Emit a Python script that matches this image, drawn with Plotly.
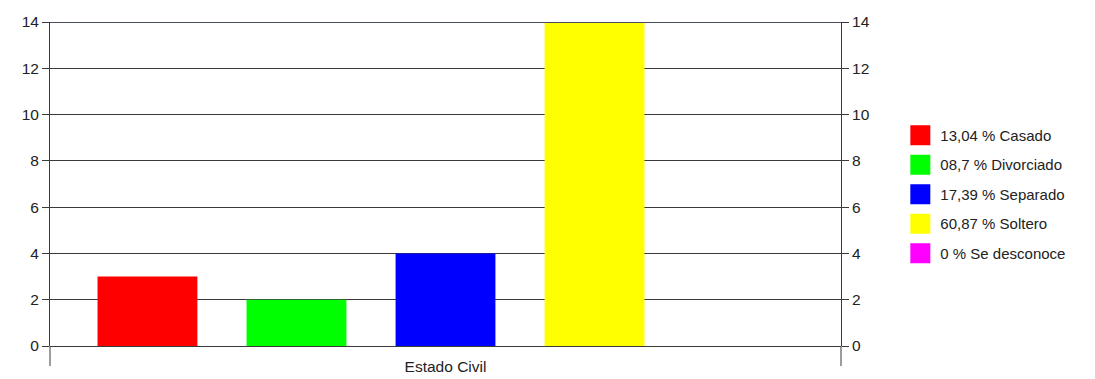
import plotly.graph_objects as go

group = "Estado Civil"
categories = ["Casado", "Divorciado", "Separado", "Soltero", "Se desconoce"]
counts = [3, 2, 4, 14, 0]
pct_labels = ["13,04", "08,7", "17,39", "60,87", "0"]
colors = ["#FF0000", "#00FF00", "#0000FF", "#FFFF00", "#FF00FF"]
y_ticks = [0, 2, 4, 6, 8, 10, 12, 14]

fig = go.Figure()
for cat, val, col in zip(categories, counts, colors):
    fig.add_trace(go.Bar(x=[group], y=[val], name=cat, marker=dict(color=col, line=dict(width=0)),
                         showlegend=False))
for cat, pct, col in zip(categories, pct_labels, colors):
    fig.add_trace(go.Scatter(x=[None], y=[None], mode="markers", name=f"{pct} % {cat}",
                             legendgroup=cat,
                             marker=dict(symbol="square", size=20, color=col,
                                         line=dict(color=col, width=4))))
# invisible trace for right axis
fig.add_trace(go.Scatter(x=[group], y=[None], yaxis="y2", showlegend=False, hoverinfo="skip"))

gridc = "#3a3a3a"
fam = "Liberation Sans, Arial, sans-serif"
font = dict(family=fam, size=15.5, color="#222222")
fig.update_layout(
    width=1095, height=379,
    margin=dict(l=50, r=254, t=22, b=33),
    paper_bgcolor="white", plot_bgcolor="white",
    barmode="group", bargap=0.058, bargroupgap=0.33,
    font=font,
    xaxis=dict(showgrid=False, showline=False, ticks="", zeroline=False, automargin=False,
               tickfont=dict(family=fam, size=15.5, color="#222222"), ticklabelstandoff=9),
    yaxis=dict(range=[0, 14], tickvals=y_ticks, showgrid=True, gridcolor=gridc, gridwidth=1,
               zeroline=True, zerolinecolor=gridc, zerolinewidth=1, automargin=False,
               showline=True, linecolor=gridc, linewidth=1,
               ticks="outside", ticklen=7, tickcolor=gridc, tickfont=font),
    yaxis2=dict(range=[0, 14], tickvals=y_ticks, overlaying="y", side="right", showgrid=False,
                zeroline=False, showline=True, linecolor=gridc, linewidth=1, automargin=False,
                ticks="outside", ticklen=7, tickcolor=gridc, tickfont=font),
    legend=dict(x=1.075, y=0.701, xanchor="left", yanchor="top", tracegroupgap=7,
                font=dict(family=fam, size=15, color="#222222"),
                itemsizing="trace", bgcolor="rgba(0,0,0,0)"),
    shapes=[
        dict(type="line", xref="paper", yref="paper", x0=0, x1=0, y0=-0.062, y1=0,
             line=dict(color=gridc, width=1)),
        dict(type="line", xref="paper", yref="paper", x0=1, x1=1, y0=-0.062, y1=0,
             line=dict(color=gridc, width=1)),
        dict(type="line", xref="paper", yref="y", x0=0, x1=1, y0=14, y1=14,
             line=dict(color="#4a4f60", width=2)),
    ],
)

fig.write_html("out.html")
